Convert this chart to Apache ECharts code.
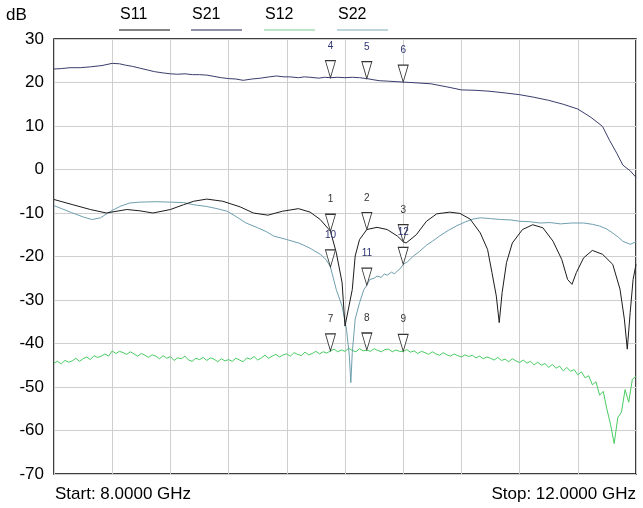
<!DOCTYPE html>
<html>
<head>
<meta charset="utf-8">
<script src="https://cdn.jsdelivr.net/npm/echarts@6/dist/echarts.min.js"></script>
<style>
    html, body { margin: 0; padding: 0; background: #fff; }
    #main { width: 643px; height: 508px; }
</style>
</head>
<body>
<div id="main"></div>
<script>
var FONT = '"Liberation Sans", Arial, sans-serif';

// x axis: 8 - 12 GHz, 10 divisions
var freqStart = 8;
var freqStop = 12;
var freqStep = 0.4;
var yTicks = [-70, -60, -50, -40, -30, -20, -10, 0, 10, 20, 30];

// S11
var s11Freq = [8.00, 8.13, 8.25, 8.36, 8.50, 8.59, 8.68, 8.80, 8.89, 8.96, 9.05, 9.16, 9.28, 9.37, 9.47, 9.57, 9.68, 9.76, 9.83,
    9.90, 9.94, 9.98, 10.00, 10.05, 10.07, 10.10, 10.15, 10.22, 10.29, 10.36, 10.40, 10.42, 10.49, 10.56, 10.63, 10.72, 10.79,
    10.86, 10.93, 10.98, 11.01, 11.04, 11.06, 11.08, 11.11, 11.15, 11.22, 11.29, 11.36, 11.43, 11.49, 11.53, 11.56, 11.59,
    11.64, 11.70, 11.77, 11.84, 11.89, 11.92, 11.94, 11.96, 11.98, 12.00];
var s11Db = [-6.9, -8.1, -9.2, -10.0, -9.2, -9.5, -10.0, -9.2, -8.1, -7.3, -6.8, -7.3, -8.6, -10.0, -10.5, -9.6, -9.0, -9.8, -11.5,
    -14.2, -19.1, -26.0, -36.0, -27.6, -19.9, -16.1, -13.8, -13.3, -13.8, -15.3, -16.6, -16.9, -15.0, -11.9, -10.2, -9.8, -10.1,
    -11.4, -14.6, -18.4, -23.7, -29.1, -35.2, -28.3, -21.4, -16.9, -13.8, -12.7, -13.4, -16.5, -20.7, -25.3, -26.4, -23.7,
    -20.3, -18.6, -19.5, -21.8, -27.5, -34.4, -41.3, -32.9, -25.3, -21.8];

// S21
var s21Freq = [8.00, 8.05, 8.11, 8.18, 8.25, 8.33, 8.40, 8.45, 8.49, 8.54, 8.59, 8.64, 8.69, 8.75, 8.80, 8.85, 8.90, 8.95, 9.00,
    9.05, 9.10, 9.15, 9.20, 9.25, 9.30, 9.36, 9.42, 9.48, 9.53, 9.58, 9.62, 9.68, 9.72, 9.76, 9.82, 9.86, 9.90, 9.95, 10.00,
    10.05, 10.10, 10.15, 10.20, 10.24, 10.30, 10.35, 10.40, 10.50, 10.59, 10.70, 10.80, 10.90, 10.99, 11.10, 11.20, 11.30,
    11.40, 11.50, 11.60, 11.69, 11.77, 11.82, 11.87, 11.91, 11.96, 12.00];
var s21Db = [23.1, 23.2, 23.4, 23.4, 23.6, 23.9, 24.4, 24.3, 24.0, 23.7, 23.3, 22.9, 22.5, 22.2, 22.0, 21.9, 22.0, 21.8, 21.8,
    21.7, 21.4, 21.1, 20.9, 20.8, 20.5, 20.8, 21.0, 21.3, 21.5, 21.3, 21.3, 21.1, 21.3, 21.2, 21.0, 21.2, 21.1, 21.2, 21.1,
    21.2, 21.1, 20.9, 20.6, 20.4, 20.3, 20.2, 20.1, 19.9, 19.7, 19.0, 18.3, 18.2, 18.0, 17.6, 17.2, 16.6,
    15.9, 15.0, 13.9, 12.0, 9.9, 6.6, 3.6, 1.0, -0.3, -1.8];

// S12 (sweep points every 0.025 GHz)
var s12Step = 0.025;
var s12Db = [
    -44.5, -44.1, -44.7, -43.9, -44.3, -44.0, -43.4, -44.1, -43.5, -43.1, -43.7, -42.8, -43.2, -42.9, -42.4, -42.9,
    -41.7, -42.3, -41.8, -42.1, -42.5, -41.9, -42.4, -42.9, -42.3, -42.7, -43.2, -42.6, -42.9, -43.5, -42.8, -43.4,
    -43.0, -43.9, -43.3, -43.5, -42.9, -43.8, -44.1, -43.4, -43.7, -43.2, -43.9, -43.3, -43.6, -44.2, -43.5, -44.0,
    -43.7, -44.1, -43.4, -43.8, -44.2, -43.3, -43.6, -43.0, -43.8, -43.3, -42.7, -43.4, -42.9, -42.5, -43.1, -42.6,
    -42.4, -42.9, -42.1, -42.5, -42.8, -42.0, -42.6, -42.3, -41.8, -42.4, -41.9, -42.2, -41.7, -41.3, -41.9, -41.5,
    -41.8, -41.1, -41.6, -41.9, -41.2, -41.7, -41.5, -41.8, -41.2, -41.6, -41.9, -41.4, -41.3, -41.9, -41.5, -41.8,
    -41.8, -41.4, -42.0, -41.7, -42.3, -41.8, -42.1, -42.5, -41.9, -42.4, -42.7, -42.1, -42.6, -42.9, -42.4, -42.8,
    -43.1, -42.6, -43.0, -42.7, -43.3, -42.9, -43.5, -43.1, -43.4, -43.8, -43.2, -43.9, -43.6, -44.2, -43.5, -44.0,
    -44.4, -43.8, -44.5, -44.1, -44.9, -44.3, -45.0, -44.6, -45.5, -44.8, -45.7, -45.2, -46.3, -45.5, -46.4, -46.0,
    -47.2, -46.5, -47.9, -47.4, -49.5, -48.8, -51.9, -51.0, -55.1, -58.6, -63.0, -57.0, -55.8, -50.6, -53.5, -48.2,
    -47.6];

// S22
var s22Freq = [8.00, 8.06, 8.12, 8.20, 8.26, 8.32, 8.37, 8.40, 8.46, 8.52, 8.59, 8.70, 8.80, 8.89, 8.96, 9.05, 9.12, 9.19,
    9.25, 9.32, 9.40, 9.46, 9.51, 9.60, 9.69, 9.76, 9.83, 9.87, 9.90, 9.94, 9.98, 10.01, 10.03, 10.04, 10.05, 10.07, 10.10,
    10.13, 10.15, 10.17, 10.20, 10.22, 10.25, 10.27, 10.29, 10.32, 10.34, 10.36, 10.38, 10.40, 10.43, 10.47, 10.51, 10.56,
    10.60, 10.65, 10.71, 10.77, 10.83, 10.88, 10.93, 11.00, 11.07, 11.14, 11.20, 11.27, 11.34, 11.41, 11.48, 11.56, 11.64,
    11.70, 11.75, 11.80, 11.84, 11.88, 11.91, 11.96, 12.00];
var s22Db = [-8.3, -9.1, -9.9, -10.9, -11.5, -11.1, -10.0, -9.4, -8.4, -7.7, -7.5, -7.4, -7.5, -7.6, -8.1, -8.5, -9.0, -9.6,
    -10.8, -12.3, -13.4, -14.3, -15.3, -16.1, -17.0, -18.1, -19.5, -20.7, -22.4, -27.6, -31.4, -36.7, -42.9, -49.0, -42.1, -34.4, -30.6,
    -27.6, -26.6, -25.3, -25.0, -24.5, -24.8, -24.0, -24.3, -23.6, -24.0, -23.3, -22.8, -21.8, -21.2, -19.9, -18.9, -17.4,
    -16.5, -15.3, -14.0, -12.9, -12.0, -11.4, -11.1, -11.3, -11.5, -11.6, -11.9, -12.0, -12.3, -12.2, -12.5, -12.3, -12.3,
    -12.6, -13.0, -13.7, -14.6, -15.6, -16.5, -17.2, -16.6];

// markers
var markerFreq = [9.9, 10.15, 10.4];
var s11Markers = ['1', '2', '3'];
var s21Markers = ['4', '5', '6'];
var s12Markers = ['7', '8', '9'];
var s22Markers = ['10', '11', '12'];

var seriesNames = ['S11', 'S21', 'S12', 'S22'];
var seriesColors = ['#1c1c1c', '#3a3d6c', '#48cc62', '#6e9fae'];
var legendLineColors = ['#5a5a5a', '#6c6c8c', '#a9dcb4', '#a9c9cf'];

function toPairs(freq, db) {
    var out = [];
    for (var i = 0; i < db.length; i++) {
        out.push([freq[i], db[i]]);
    }
    return out;
}

function sweepFreq(start, step, n) {
    var out = [];
    for (var i = 0; i < n; i++) {
        out.push(+(start + i * step).toFixed(3));
    }
    return out;
}

// value of a trace at f
function traceAt(pairs, f) {
    for (var i = 0; i < pairs.length - 1; i++) {
        if (f >= pairs[i][0] && f <= pairs[i + 1][0]) {
            var t = (f - pairs[i][0]) / (pairs[i + 1][0] - pairs[i][0]);
            return pairs[i][1] + t * (pairs[i + 1][1] - pairs[i][1]);
        }
    }
    return pairs[pairs.length - 1][1];
}

function buildMarkers(pairs, nums, labelColor) {
    var data = [];
    for (var i = 0; i < markerFreq.length; i++) {
        data.push({
            name: nums[i],
            coord: [markerFreq[i], traceAt(pairs, markerFreq[i])],
            label: { formatter: nums[i], color: labelColor }
        });
    }
    return {
        symbol: 'triangle',
        symbolSize: [10, 17],
        symbolRotate: 180,
        symbolOffset: [0, -8.5],
        silent: true,
        animation: false,
        itemStyle: { color: '#ffffff', borderColor: '#333333', borderWidth: 1 },
        label: { show: true, position: 'top', distance: 9, fontSize: 10, fontFamily: FONT },
        data: data
    };
}

function lineSeries(idx, pairs, markers, labelColor) {
    return {
        name: seriesNames[idx],
        type: 'line',
        data: pairs,
        showSymbol: false,
        symbol: 'none',
        animation: false,
        lineStyle: { color: seriesColors[idx], width: 1 },
        itemStyle: { color: seriesColors[idx] },
        markPoint: buildMarkers(pairs, markers, labelColor),
        z: 2
    };
}

function bindEcharts() {
    var myChart = echarts.init(document.getElementById('main'));

    var s11 = toPairs(s11Freq, s11Db);
    var s21 = toPairs(s21Freq, s21Db);
    var s12 = toPairs(sweepFreq(freqStart, s12Step, s12Db.length), s12Db);
    var s22 = toPairs(s22Freq, s22Db);

    // legend: label with a short line under it
    var legendX = [120, 192, 265, 338];
    var graphics = [];
    for (var i = 0; i < seriesNames.length; i++) {
        graphics.push({
            type: 'text', left: legendX[i], top: 7,
            style: { text: seriesNames[i], font: '16px ' + FONT, fill: '#000' }
        });
        graphics.push({
            type: 'line',
            shape: { x1: legendX[i] - 1, y1: 30, x2: legendX[i] + 50, y2: 30 },
            style: { stroke: legendLineColors[i], lineWidth: 1.5 }
        });
    }
    graphics.push({
        type: 'text', left: 6, top: 7,
        style: { text: 'dB', font: '17px ' + FONT, fill: '#000' }
    });
    graphics.push({
        type: 'text', left: 55, top: 486,
        style: { text: 'Start: ' + freqStart.toFixed(4) + ' GHz', font: '17px ' + FONT, fill: '#000' }
    });
    graphics.push({
        type: 'text', right: 7, top: 486,
        style: { text: 'Stop: ' + freqStop.toFixed(4) + ' GHz', font: '17px ' + FONT, fill: '#000' }
    });

    var option = {
        backgroundColor: '#ffffff',
        animation: false,
        grid: {
            left: 54, right: 7, top: 39, bottom: 34,
            show: true, borderColor: '#000', borderWidth: 1.5, backgroundColor: 'transparent'
        },
        xAxis: {
            type: 'value',
            min: freqStart,
            max: freqStop,
            interval: freqStep,
            axisLine: { show: false },
            axisTick: { show: false },
            axisLabel: { show: false },
            splitLine: { show: true, lineStyle: { color: '#cfcfcf', width: 1 } }
        },
        yAxis: {
            type: 'value',
            min: yTicks[0],
            max: yTicks[yTicks.length - 1],
            interval: yTicks[1] - yTicks[0],
            axisLine: { show: false },
            axisTick: { show: false },
            axisLabel: { color: '#000', fontSize: 17, fontFamily: FONT, margin: 10 },
            splitLine: { show: true, lineStyle: { color: '#cfcfcf', width: 1 } }
        },
        graphic: graphics,
        series: [
            lineSeries(2, s12, s12Markers, '#333333'),
            lineSeries(3, s22, s22Markers, '#2e3470'),
            lineSeries(1, s21, s21Markers, '#2e3470'),
            lineSeries(0, s11, s11Markers, '#333333')
        ]
    };

    myChart.setOption(option);
}

bindEcharts();
</script>
</body>
</html>
